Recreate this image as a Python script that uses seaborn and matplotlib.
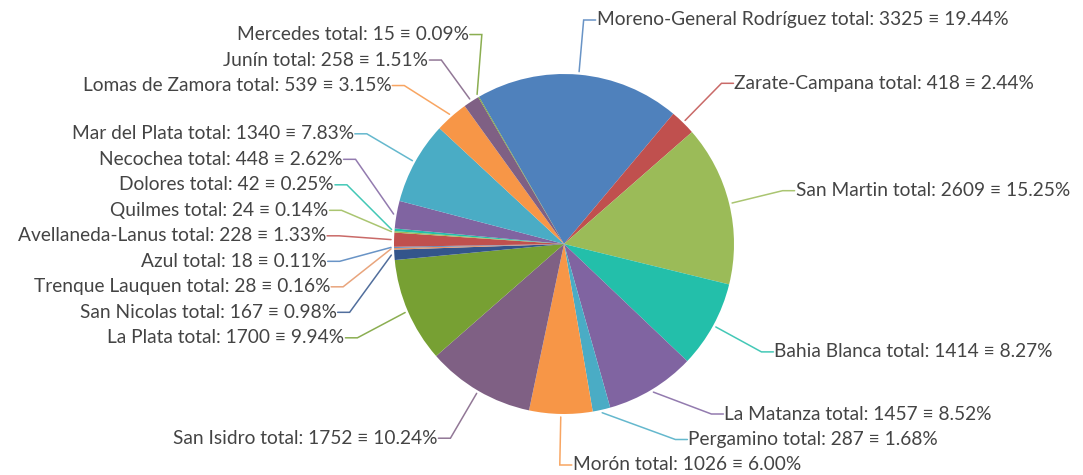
"""
Pie chart of totals per region with leader-line labels.
"""

import numpy as np
import seaborn as sns
from matplotlib import pyplot as plt

regions = [
    "Moreno-General Rodríguez", "Zarate-Campana", "San Martin", "Bahia Blanca",
    "La Matanza", "Pergamino", "Morón", "San Isidro", "La Plata", "San Nicolas",
    "Trenque Lauquen", "Azul", "Avellaneda-Lanus", "Quilmes", "Dolores",
    "Necochea", "Mar del Plata", "Lomas de Zamora", "Junín", "Mercedes",
]
totals = [3325, 418, 2609, 1414, 1457, 287, 1026, 1752, 1700, 167,
          28, 18, 228, 24, 42, 448, 1340, 539, 258, 15]
percents = ["19.44", "2.44", "15.25", "8.27", "8.52", "1.68", "6.00", "10.24",
            "9.94", "0.98", "0.16", "0.11", "1.33", "0.14", "0.25", "2.62",
            "7.83", "3.15", "1.51", "0.09"]
palette = ["#4F81BC", "#C0504E", "#9BBB58", "#23BFAA", "#8064A1", "#4AACC5",
           "#F79647", "#7F6084", "#77A033", "#33558B", "#E59566"]


def cluster_top(naturals, members, gap, lo, hi):
    n = len(members)
    top = np.mean([naturals[j] for j in members]) - (n - 1) * gap / 2
    return min(max(top, lo), hi - (n - 1) * gap)


def spread(naturals, gap, lo, hi):
    # merge overlapping labels into clusters centred on their natural positions
    clusters = []
    for i in np.argsort(naturals):
        clusters.append([i])
        while len(clusters) > 1:
            prev, last = clusters[-2], clusters[-1]
            ptop = cluster_top(naturals, prev, gap, lo, hi)
            top = cluster_top(naturals, last, gap, lo, hi)
            if ptop + len(prev) * gap > top:
                clusters[-2] = prev + last
                clusters.pop()
            else:
                break
    out = {}
    for cl in clusters:
        top = cluster_top(naturals, cl, gap, lo, hi)
        for k, j in enumerate(cl):
            out[j] = top + k * gap
    return [out[j] for j in range(len(naturals))]


if __name__ == "__main__":
    sns.set_theme(style="white")
    plt.rcParams["font.family"] = ["Lato", "DejaVu Sans"]

    W, H = 1083, 475
    cx, cy, r = 564, 244, 170
    r_lab = r + 55
    start = -30.0  # degrees clockwise from 12 o'clock

    colors = [palette[i % len(palette)] for i in range(len(totals))]

    fig = plt.figure(figsize=(W / 100, H / 100), dpi=100)
    ax = fig.add_axes([0, 0, 1, 1])
    ax.pie(
        totals,
        colors=colors,
        startangle=90 - start,
        counterclock=False,
        radius=r,
        center=(cx, H - cy),
        wedgeprops=dict(linewidth=0),
        frame=True,
    )
    ax.set_xlim(0, W)
    ax.set_ylim(0, H)
    ax.set_aspect("equal")
    ax.axis("off")

    frac = np.array(totals) / np.sum(totals)
    mids = start + 360 * (np.cumsum(frac) - frac / 2)
    rad = np.deg2rad(mids)
    sx, sy = np.sin(rad), -np.cos(rad)
    right = sx > -0.05

    nat_y = cy + r_lab * sy
    lab_y = np.zeros(len(totals))
    for side in (True, False):
        idx = np.where(right == side)[0]
        lab_y[idx] = spread([nat_y[i] for i in idx], 25.5, 20, 465)

    for i in range(len(totals)):
        sign = 1 if right[i] else -1
        if abs(lab_y[i] - nat_y[i]) < 6:
            ex = cx + r_lab * sx[i]
        else:
            dy = np.clip(lab_y[i] - cy, -r_lab + 1, r_lab - 1)
            ex = cx + sign * np.sqrt(r_lab ** 2 - dy ** 2)
        p0 = (cx + (r + 3) * sx[i], H - (cy + (r + 3) * sy[i]))
        p1 = (ex, H - lab_y[i])
        p2 = (ex + sign * 12, H - lab_y[i])
        ax.plot([p0[0], p1[0], p2[0]], [p0[1], p1[1], p2[1]],
                color=colors[i], lw=1.1, alpha=0.85, solid_joinstyle="miter")
        ax.text(
            p2[0] + sign * 1, p2[1],
            f"{regions[i]} total: {totals[i]} \u2261 {percents[i]}%",
            ha="left" if right[i] else "right", va="center",
            fontsize=13.75, color="#444444",
        )

    plt.savefig("out.png", dpi=100)
    plt.close()
